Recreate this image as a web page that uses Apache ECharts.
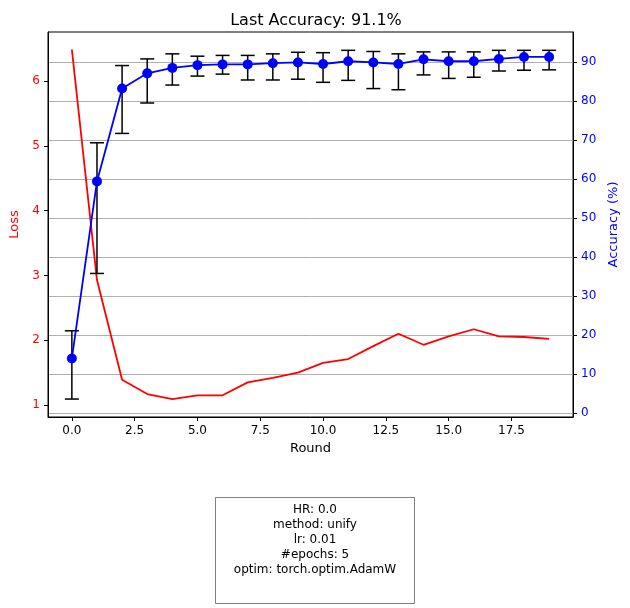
<!DOCTYPE html>
<html>
<head>
<meta charset="utf-8">
<script src="https://cdn.jsdelivr.net/npm/echarts@6/dist/echarts.min.js"></script>
<style>body{margin:0;background:#fff}#c{width:630px;height:608px}</style>
</head>
<body>
<div id="c"></div>
<script>
var rounds = [0,1,2,3,4,5,6,7,8,9,10,11,12,13,14,15,16,17,18,19];
var loss = [6.49,2.93,1.39,1.17,1.09,1.15,1.15,1.35,1.42,1.50,1.65,1.71,1.91,2.10,1.93,2.06,2.17,2.06,2.05,2.02];
var acc = [14.0,59.4,83.2,87.1,88.5,89.2,89.4,89.4,89.7,89.9,89.5,90.2,89.9,89.5,90.7,90.2,90.2,90.8,91.3,91.3];
var accHigh = [21.1,69.3,89.1,90.8,92.1,91.5,91.7,91.7,92.1,92.5,92.4,93.0,92.7,92.1,92.6,92.6,92.6,93.0,93.0,93.0];
var accLow = [3.6,35.8,71.7,79.5,84.1,86.4,86.9,85.4,85.4,85.6,84.8,85.3,83.2,82.9,86.7,85.8,86.1,87.7,87.9,88.0];
var xTicks = [0,2.5,5,7.5,10,12.5,15,17.5];
var lossTicks = [1,2,3,4,5,6];
var accTicks = [0,10,20,30,40,50,60,70,80,90];
var infoLines = ['HR: 0.0','method: unify','lr: 0.01','#epochs: 5','optim: torch.optim.AdamW'];

var font = 'DejaVu Sans';
var chart = echarts.init(document.getElementById('c'));

//误差棒
function renderErr(params, api) {
    var x = api.value(0);
    var lo = api.coord([x, api.value(1)]);
    var hi = api.coord([x, api.value(2)]);
    var w = 7;
    var st = {stroke: '#000', lineWidth: 1.5};
    return {type: 'group', children: [
        {type: 'line', shape: {x1: lo[0], y1: lo[1], x2: hi[0], y2: hi[1]}, style: st},
        {type: 'line', shape: {x1: lo[0]-w, y1: lo[1], x2: lo[0]+w, y2: lo[1]}, style: st},
        {type: 'line', shape: {x1: hi[0]-w, y1: hi[1], x2: hi[0]+w, y2: hi[1]}, style: st}
    ]};
}

chart.setOption({
    animation: false,
    textStyle: {fontFamily: font},
    title: {text: 'Last Accuracy: 91.1%', left: 311, top: 8, textAlign: 'center',
        textStyle: {fontFamily: font, fontSize: 16, fontWeight: 'normal', color: '#000'}},
    grid: {left: 48, right: 57, top: 32, bottom: 191},
    xAxis: {type: 'value', min: -0.95, max: 19.95,
        name: 'Round', nameLocation: 'middle', nameGap: 25,
        nameTextStyle: {fontSize: 13, color: '#000'},
        axisLine: {onZero: false, lineStyle: {color: '#000'}},
        axisTick: {customValues: xTicks, length: 4, lineStyle: {color: '#000'}},
        axisLabel: {customValues: xTicks, color: '#000', fontSize: 12,
            formatter: function (v) { return v.toFixed(1); }},
        splitLine: {show: false}},
    yAxis: [
        {type: 'value', min: 0.815, max: 6.76, position: 'left',
            name: 'Loss', nameLocation: 'middle', nameGap: 26,
            nameTextStyle: {color: 'red', fontSize: 13},
            axisLine: {show: true, onZero: false, lineStyle: {color: '#000'}},
            axisTick: {show: true, customValues: lossTicks, length: 4, lineStyle: {color: '#000'}},
            axisLabel: {customValues: lossTicks, color: 'red', fontSize: 12},
            splitLine: {show: false}},
        {type: 'value', min: -1.0, max: 97.7, position: 'right',
            name: 'Accuracy (%)', nameLocation: 'middle', nameGap: 32, nameRotate: 90,
            nameTextStyle: {color: 'blue', fontSize: 13},
            axisLine: {show: true, onZero: false, lineStyle: {color: '#000'}},
            axisTick: {show: true, customValues: accTicks, length: 4, lineStyle: {color: '#000'}},
            axisLabel: {customValues: accTicks, color: 'blue', fontSize: 12},
            splitLine: {show: true, lineStyle: {color: '#b0b0b0', width: 1}}}
    ],
    series: [
        {type: 'line', yAxisIndex: 0, data: rounds.map(function (r, i) { return [r, loss[i]]; }),
            showSymbol: false, lineStyle: {color: 'red', width: 1.8}, z: 2},
        {type: 'custom', yAxisIndex: 1, renderItem: renderErr, z: 3,
            data: rounds.map(function (r, i) { return [r, accLow[i], accHigh[i]]; })},
        {type: 'line', yAxisIndex: 1, data: rounds.map(function (r, i) { return [r, acc[i]]; }),
            symbol: 'circle', symbolSize: 10, itemStyle: {color: 'blue'},
            lineStyle: {color: 'blue', width: 1.8}, z: 4}
    ],
    graphic: [
        {type: 'rect', shape: {x: 48, y: 32, width: 525, height: 385},
            style: {fill: 'none', stroke: '#000', lineWidth: 1}, silent: true},
        {type: 'rect', shape: {x: 215.5, y: 497.5, width: 199, height: 106},
            style: {fill: '#fff', stroke: '#808080', lineWidth: 1}},
        {type: 'text', x: 315, y: 502, style: {text: infoLines.join('\n'), fontFamily: font,
            fontSize: 12, lineHeight: 15, align: 'center', fill: '#000'}}
    ]
});
</script>
</body>
</html>
